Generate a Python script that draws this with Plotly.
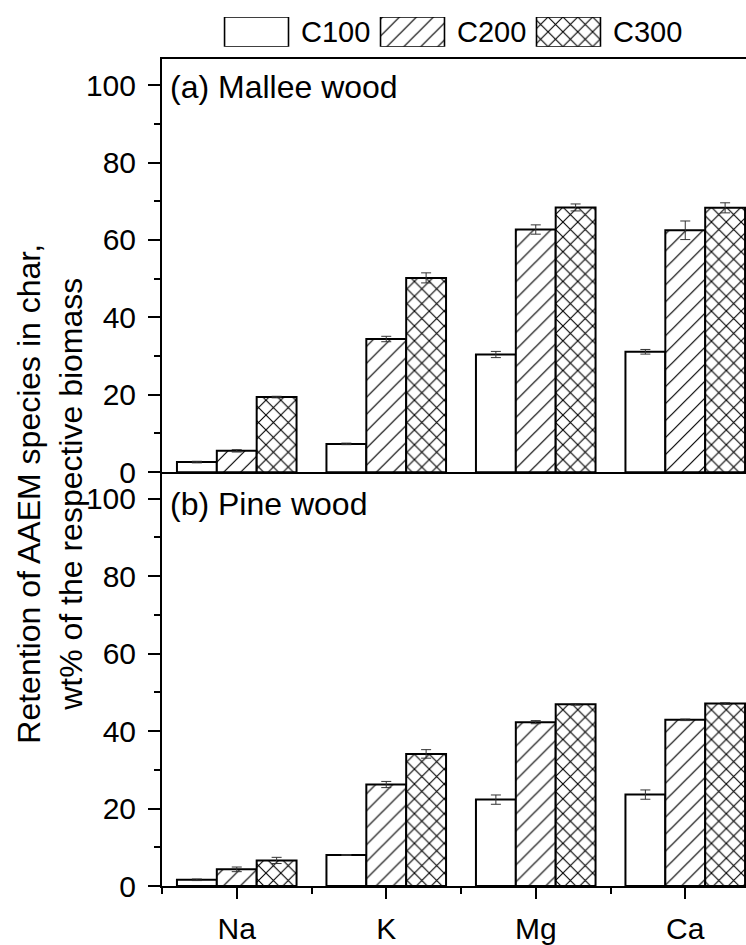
import plotly.graph_objects as go

# ---- data -------------------------------------------------------------
elements = ["Na", "K", "Mg", "Ca"]
series = ["C100", "C200", "C300"]

# (a) Mallee wood: retention (wt%) and error
mallee_c100 = [2.6, 7.3, 30.4, 31.1]
mallee_c200 = [5.5, 34.4, 62.7, 62.5]
mallee_c300 = [19.4, 50.2, 68.4, 68.3]
mallee_c100_err = [0.2, 0.2, 0.8, 0.6]
mallee_c200_err = [0.3, 0.7, 1.2, 2.4]
mallee_c300_err = [0.2, 1.3, 0.9, 1.3]

# (b) Pine wood: retention (wt%) and error
pine_c100 = [1.6, 8.0, 22.3, 23.6]
pine_c200 = [4.3, 26.2, 42.3, 42.9]
pine_c300 = [6.6, 34.1, 46.9, 47.1]
pine_c100_err = [0.2, 0.1, 1.2, 1.2]
pine_c200_err = [0.6, 0.8, 0.4, 0.2]
pine_c300_err = [0.8, 1.1, 0.2, 0.2]

y_ticks = [0, 20, 40, 60, 80, 100]

# ---- styling ----------------------------------------------------------
W, H = 746, 945
ML, MR, MT, MB = 162, 0, 10, 53
PW, PH = W - ML - MR, H - MT - MB
FONT = "Liberation Sans, Arial, sans-serif"

patterns = [
    dict(shape="", fgcolor="black", bgcolor="white"),
    dict(shape="/", size=12, solidity=0.1, fgcolor="black", fgopacity=1,
         bgcolor="white", fillmode="overlay"),
    dict(shape="x", size=10.5, solidity=0.2, fgcolor="black", fgopacity=1,
         bgcolor="white", fillmode="overlay"),
]


def py(p):
    """pixel row -> paper y"""
    return (H - MB - p) / PH


def px(p):
    """pixel column -> paper x"""
    return (p - ML) / PW


x_pos = list(range(len(elements)))

fig = go.Figure()

# top panel (a) uses x2/y2, bottom panel (b) uses x/y
for (xa, ya), vals, errs in [
    (("x2", "y2"), [mallee_c100, mallee_c200, mallee_c300],
     [mallee_c100_err, mallee_c200_err, mallee_c300_err]),
    (("x", "y"), [pine_c100, pine_c200, pine_c300],
     [pine_c100_err, pine_c200_err, pine_c300_err]),
]:
    for name, v, e, pat in zip(series, vals, errs, patterns):
        fig.add_trace(go.Bar(
            x=x_pos, y=v, name=name, xaxis=xa, yaxis=ya,
            marker=dict(color="white", line=dict(color="black", width=2), pattern=pat),
            error_y=dict(type="data", array=e, color="#333333", thickness=1, width=5),
            showlegend=False, offsetgroup=name,
        ))

# legend swatches drawn as patterned bars on a small overlay axis
for i, (name, pat) in enumerate(zip(series, patterns)):
    fig.add_trace(go.Bar(
        x=[i], y=[1], width=0.41, xaxis="x3", yaxis="y3",
        marker=dict(color="white", line=dict(color="black", width=1.6), pattern=pat),
        showlegend=False, hoverinfo="skip",
    ))
    fig.add_annotation(
        x=i + 0.205 + 0.07, y=0.5, xref="x3", yref="y3", text=name,
        showarrow=False, xanchor="left", yanchor="middle",
        font=dict(family=FONT, size=29, color="black"),
    )

y_top = 106.85
split = py(475.3)
top = py(59)

yax = dict(
    range=[0, y_top], tickvals=y_ticks, ticks="outside", ticklen=12, tickwidth=2,
    showline=True, linewidth=2, linecolor="black", tickcolor="black",
    showgrid=False, zeroline=False, ticklabelstandoff=6,
    minor=dict(dtick=10, ticks="outside", ticklen=6, tickwidth=2, tickcolor="black"),
    tickfont=dict(family=FONT, size=30, color="black"),
)

x_range = [-0.5, -0.5 + PW / 149.5]

fig.update_layout(
    width=W, height=H,
    margin=dict(l=ML, r=MR, t=MT, b=MB),
    paper_bgcolor="white", plot_bgcolor="white",
    barmode="group", bargap=0.2, bargroupgap=0,
    font=dict(family=FONT, color="black"),
    xaxis=dict(
        domain=[0, 1], anchor="y", range=x_range,
        tickvals=x_pos, ticktext=elements, ticks="outside", ticklen=11, tickwidth=2,
        tickcolor="black", showline=True, linewidth=2, linecolor="black",
        showgrid=False, zeroline=False, ticklabelstandoff=4,
        minor=dict(tickvals=[p - 0.5 for p in x_pos], ticks="outside", ticklen=6,
                   tickwidth=2, tickcolor="black"),
        tickfont=dict(family=FONT, size=30, color="black"),
    ),
    yaxis=dict(domain=[0, split], anchor="x", **yax),
    xaxis2=dict(
        domain=[0, 1], anchor="y2", matches="x", showticklabels=False, ticks="",
        showline=True, mirror=True, linewidth=2, linecolor="black",
        showgrid=False, zeroline=False,
    ),
    yaxis2=dict(domain=[split, top], anchor="x2", **yax),
    xaxis3=dict(domain=[0, 1], anchor="y3", range=[-0.606, 3.138], visible=False),
    yaxis3=dict(domain=[py(47), py(17)], anchor="x3", range=[0, 1], visible=False),
)

# panel labels
fig.add_annotation(x=px(168), y=py(88), xref="paper", yref="paper", text="(a) Mallee wood",
                   showarrow=False, xanchor="left", yanchor="middle",
                   font=dict(family=FONT, size=32, color="black"))
fig.add_annotation(x=px(168), y=py(507), xref="paper", yref="paper", text="(b) Pine wood",
                   showarrow=False, xanchor="left", yanchor="middle",
                   font=dict(family=FONT, size=32, color="black"))

# y-axis title (two lines)
fig.add_annotation(x=px(50), y=py(497), xref="paper", yref="paper",
                   text="Retention of AAEM species in char,<br>wt% of the respective biomass",
                   showarrow=False, textangle=-90, xanchor="center", yanchor="middle",
                   font=dict(family=FONT, size=32, color="black"))

fig.write_html("out.html")
